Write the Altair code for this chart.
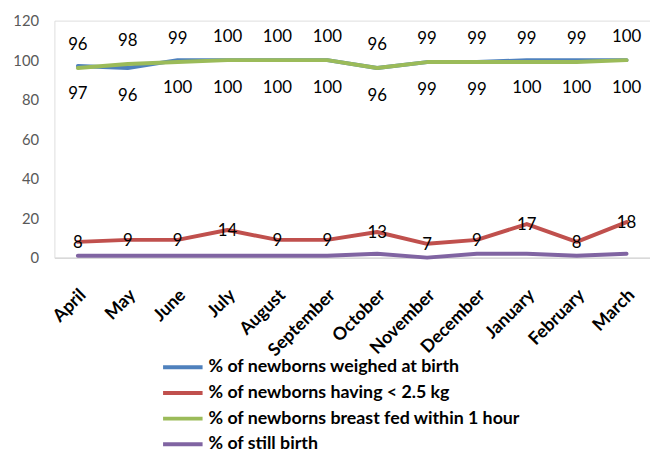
import altair as alt
import pandas as pd

months = ["April", "May", "June", "July", "August", "September", "October",
          "November", "December", "January", "February", "March"]
series_names = [
    "% of newborns weighed at birth",
    "% of newborns having < 2.5 kg",
    "% of newborns breast fed within 1 hour",
    "% of still birth",
]
weighed = [97, 96, 100, 100, 100, 100, 96, 99, 99, 100, 100, 100]
low_weight = [8, 9, 9, 14, 9, 9, 13, 7, 9, 17, 8, 18]
breast_fed = [96, 98, 99, 100, 100, 100, 96, 99, 99, 99, 99, 100]
still_birth = [1, 1, 1, 1, 1, 1, 2, 0, 2, 2, 1, 2]
y_ticks = [0, 20, 40, 60, 80, 100, 120]
colors = ["#4F81BD", "#C0504D", "#9BBB59", "#8064A2"]

all_values = [weighed, low_weight, breast_fed, still_birth]
rows = []
for name, vals in zip(series_names, all_values):
    for m, v in zip(months, vals):
        rows.append({"month": m, "series": name, "value": v})
df = pd.DataFrame(rows)

FONT = "Lato"
W, H = 603, 240

x_enc = alt.X("month:O", sort=months, title=None,
              scale=alt.Scale(type="point", padding=0.47),
              axis=alt.Axis(labelAngle=-45, labelAlign="right", labelBaseline="middle",
                            labelFont=FONT, labelFontSize=18, labelFontWeight="bold",
                            labelColor="#000000", labelPadding=35, labelOffset=5,
                            ticks=False, labelOverlap=False, labelBound=False,
                            domainColor="#D9D9D9", domainWidth=1.5, grid=False))
y_enc = alt.Y("value:Q", title=None,
              scale=alt.Scale(domain=[0, 120], nice=False),
              axis=alt.Axis(values=y_ticks, grid=False,
                            domain=False, ticks=False, labelFont=FONT,
                            labelFontSize=15, labelColor="#595959", labelPadding=16,
                            labelOverlap=False, tickCount=7))

base = alt.Chart(df)

lines = base.mark_line(strokeWidth=4, strokeCap="round", strokeJoin="round").encode(
    x=x_enc, y=y_enc,
    color=alt.Color("series:N", sort=series_names,
                    scale=alt.Scale(domain=series_names, range=colors),
                    legend=alt.Legend(title=None, orient="none", legendX=118, legendY=339,
                                      direction="vertical",
                                      symbolType="M-2,0H2", symbolSize=400,
                                      symbolStrokeWidth=4, labelFont=FONT,
                                      labelFontSize=18, labelFontWeight="bold",
                                      labelColor="#000000", labelOffset=14,
                                      labelLimit=0, rowPadding=5)),
    detail="series:N",
)

def labels(series, dy):
    return base.transform_filter(alt.datum.series == series).mark_text(
        font=FONT, fontSize=17, color="#000000", dy=dy
    ).encode(x=x_enc, y=y_enc, text="value:Q")

border = alt.Chart(pd.DataFrame({"a": [0]})).mark_rule(color="#D9D9D9", strokeWidth=1.5).encode(
    x=alt.value(-48), y=alt.value(-18), y2=alt.value(425)
)

chart = alt.layer(
    lines,
    labels(series_names[2], -23),
    labels(series_names[0], 28),
    labels(series_names[1], 1),
    border,
).properties(
    width=W, height=H,
    autosize=alt.AutoSizeParams(type="none"),
    padding={"left": 47, "top": 10, "right": 0, "bottom": 194},
).configure_view(stroke=None).configure(background="#FFFFFF")

chart.save("out.html", embed_options={"renderer": "svg", "actions": False})
